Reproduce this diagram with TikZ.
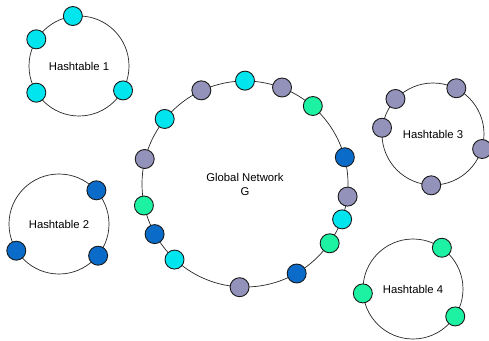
\documentclass[tikz,border=0pt]{standalone}
\usepackage{fontspec}
\setmainfont{Liberation Sans}
\usetikzlibrary{positioning}
\definecolor{aqua}{HTML}{00E5EE}
\definecolor{slate}{HTML}{9292BA}
\definecolor{mint}{HTML}{1CF2A2}
\definecolor{deep}{HTML}{0A6CC8}

\begin{document}
\begin{tikzpicture}[x=1pt,y=-1pt, every node/.style={font=\fontsize{11.3}{14}\selectfont},
    ring/.style={draw=black!85,line width=.7pt,circle,align=center,inner sep=0pt},
    dot/.style={draw=black!90,circle,fill=#1,minimum size=19pt,inner sep=0pt,line width=.9pt}]
    \useasboundingbox (0,0) rectangle (489,340);
    % the four hashtables and the global ring
    \node[ring,minimum size=100pt] (ht1) at (79,66) {Hashtable 1};
    \node[ring,minimum size=100pt] (ht2) at (59,224) {Hashtable 2};
    \node[ring,minimum size=102pt] (ht3) at (433,134) {Hashtable 3};
    \node[ring,minimum size=100pt] (ht4) at (413,289) {Hashtable 4};
    \node[ring,minimum size=206pt] (glob) at (245,184) {Global Network\\G};
    % members of each hashtable
    \node[dot=aqua] (ht1a) at (ht1.97) {}; \node[dot=aqua] (ht1b) at (ht1.148) {};
    \node[dot=aqua] (ht1c) at (ht1.212) {}; \node[dot=aqua] (ht1d) at (ht1.331) {};
    \node[dot=deep] (ht2a) at (ht2.42) {}; \node[dot=deep] (ht2b) at (ht2.212) {};
    \node[dot=deep] (ht2c) at (ht2.321) {};
    \node[dot=slate] (ht3a) at (ht3.63) {}; \node[dot=slate] (ht3b) at (ht3.137) {};
    \node[dot=slate] (ht3c) at (ht3.173) {}; \node[dot=slate] (ht3d) at (ht3.343) {};
    \node[dot=slate] (ht3e) at (ht3.268) {};
    \node[dot=mint] (ht4a) at (ht4.55) {}; \node[dot=mint] (ht4b) at (ht4.185) {};
    \node[dot=mint] (ht4c) at (ht4.327) {};
    % members of the global network
    \node[dot=aqua] (g1) at (glob.90) {}; \node[dot=slate] (g2) at (glob.115) {};
    \node[dot=slate] (g3) at (glob.69) {}; \node[dot=mint] (g4) at (glob.49) {};
    \node[dot=aqua] (g5) at (glob.141) {}; \node[dot=deep] (g6) at (glob.15) {};
    \node[dot=slate] (g7) at (glob.166) {}; \node[dot=slate] (g8) at (glob.353) {};
    \node[dot=mint] (g9) at (glob.192) {}; \node[dot=aqua] (g10) at (glob.340) {};
    \node[dot=deep] (g11) at (glob.209) {}; \node[dot=mint] (g12) at (glob.325) {};
    \node[dot=aqua] (g13) at (glob.227) {}; \node[dot=deep] (g14) at (glob.300) {};
    \node[dot=slate] (g15) at (glob.267) {};
  \end{tikzpicture}
\end{document}
